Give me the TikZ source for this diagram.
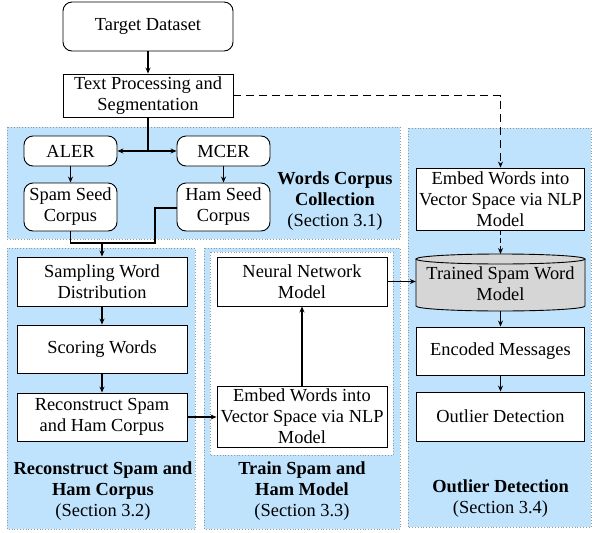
\documentclass[tikz,border=0pt]{standalone}
\usepackage{fontspec}
\setmainfont{Liberation Serif}
\usetikzlibrary{arrows.meta}
\definecolor{panelblue}{RGB}{191,227,252}
\definecolor{cylgray}{RGB}{214,214,214}
\begin{document}
\begin{tikzpicture}[x=1pt,y=-1pt,
  every node/.style={font=\fontsize{18.4}{21}\selectfont},
  box/.style={draw=black,line width=0.9pt,fill=white,minimum width=170pt,align=center,inner sep=1pt},
  rbox/.style={box,rounded corners=9pt},
  panel/.style={fill=panelblue,draw=gray!80,dotted,line width=0.8pt},
  arr/.style={-{Stealth[length=6pt,width=5pt]},line width=1.1pt},
  ln/.style={line width=1.1pt},
  dashln/.style={dash pattern=on 8pt off 5pt,line width=1.1pt},
  lbl/.style={align=center}
]
\useasboundingbox (0,0) rectangle (592,533);
% panels
\draw[panel] (7,127) rectangle (400,239);
\draw[panel] (7,248) rectangle (195,529);
\draw[panel] (204,248) rectangle (400,529);
\draw[panel] (408,128) rectangle (591,527);
\draw[fill=white,draw=gray!80,dotted,line width=0.8pt] (210,252) rectangle (393,455);

% top nodes
\node[rbox,minimum height=49pt] (target) at (148,26.5) {Target Dataset};
\node[box,minimum height=43pt] (textproc) at (148,95.5) {Text Processing and\\Segmentation};

% words corpus
\node[rbox,minimum width=93pt,minimum height=30pt] (aler) at (70.5,151) {ALER};
\node[rbox,minimum width=93pt,minimum height=30pt] (mcer) at (223.5,151) {MCER};
\node[rbox,minimum width=93pt,minimum height=48pt] (spam) at (70.5,207) {Spam Seed\\Corpus};
\node[rbox,minimum width=93pt,minimum height=48pt] (ham) at (223.5,207) {Ham Seed\\Corpus};
\node[lbl] (wcc) at (335,201) {\textbf{Words Corpus}\\\textbf{Collection}\\(Section 3.1)};

% reconstruct
\node[box,minimum height=49pt] (sampling) at (102,281.5) {Sampling Word\\Distribution};
\node[box,minimum height=48pt] (scoring) at (102,349) {Scoring Words};
\node[box,minimum height=48pt] (recon) at (102,417) {Reconstruct Spam\\and Ham Corpus};
\node[lbl] (rsh) at (103,491) {\textbf{Reconstruct Spam and}\\\textbf{Ham Corpus}\\(Section 3.2)};

% train
\node[box,minimum height=49pt] (nn) at (302,281.5) {Neural Network\\Model};
\node[box,minimum height=61pt] (embedb) at (302,416.5) {Embed Words into\\Vector Space via NLP\\Model};
\node[lbl] (tsh) at (302,491) {\textbf{Train Spam and}\\\textbf{Ham Model}\\(Section 3.3)};

% outlier
\node[box,minimum width=168pt,minimum height=62pt] (embedr) at (500.5,199) {Embed Words into\\Vector Space via NLP\\Model};
\fill[cylgray] (416,259) -- (416,306) arc[start angle=180,end angle=360,x radius=84.5pt,y radius=5pt] -- (585,259) arc[start angle=0,end angle=180,x radius=84.5pt,y radius=5pt] -- cycle;
\draw[line width=0.9pt] (416,259) -- (416,306) arc[start angle=180,end angle=360,x radius=84.5pt,y radius=5pt] -- (585,259);
\draw[line width=0.9pt] (500.5,259) ellipse[x radius=84.5pt,y radius=5pt];
\node[minimum width=169pt,minimum height=57pt,inner sep=0pt,align=center] (cyl) at (500.5,284) {Trained Spam Word\\Model};
\node[box,minimum width=168pt,minimum height=48pt] (encoded) at (500.5,351) {Encoded Messages};
\node[box,minimum width=168pt,minimum height=49pt] (outlier) at (500.5,416.5) {Outlier Detection};
\node[lbl] (odl) at (500.5,498.5) {\textbf{Outlier Detection}\\(Section 3.4)};

% connectors
\coordinate (j1) at (148,151);
\coordinate (j2) at (70.5,243);
\coordinate (j3) at (155,243);
\coordinate (j4) at (155,208);
\coordinate (j5) at (102,243);
\coordinate (d1) at (500.5,95.5);
\coordinate (cyltop) at (500.5,254);
\coordinate (cylbot) at (500.5,311);
\draw[arr] (target) -- (textproc);
\draw[ln] (textproc.south) -- (j1);
\draw[arr] (j1) -- (aler.east);
\draw[arr] (j1) -- (mcer.west);
\draw[arr] (aler) -- (spam);
\draw[arr] (mcer) -- (ham);
\draw[ln] (spam.south) -- (j2) -- (j3) -- (j4) -- (ham.west |- j4);
\draw[arr] (j5) -- (sampling.north);
\draw[arr] (sampling) -- (scoring);
\draw[arr] (scoring) -- (recon);
\draw[arr] (recon.east) -- (embedb.west |- recon.east);
\draw[arr] (embedb.north) -- (nn.south);
\draw[arr] (nn.east) -- (cyl.west |- nn.east);
\draw[dashln,-{Stealth[length=6pt,width=5pt]}] (textproc.east) -- (d1) -- (embedr.north);
\draw[line width=1.1pt,dash pattern=on 5pt off 3pt,-{Stealth[length=6pt,width=5pt]}] (embedr.south) -- (cyltop);
\draw[arr] (cylbot) -- (encoded.north);
\draw[arr] (encoded) -- (outlier);
\end{tikzpicture}
\end{document}
